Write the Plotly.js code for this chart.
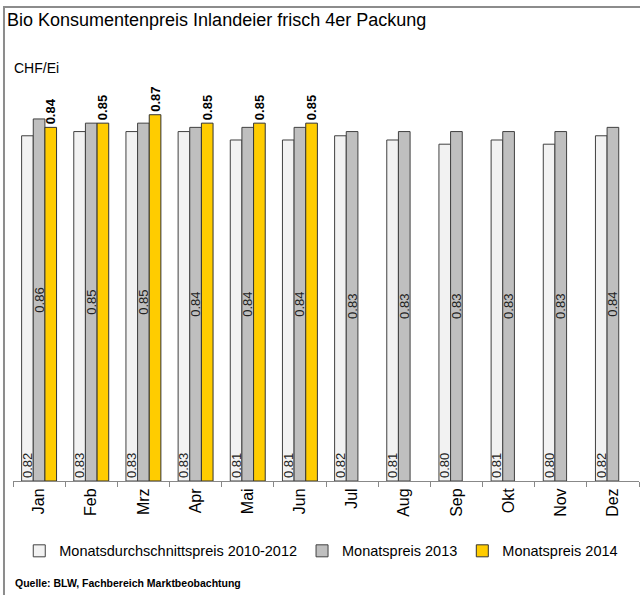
<!DOCTYPE html>
<html>
<head>
<meta charset="utf-8">
<script src="https://cdn.plot.ly/plotly-3.0.1.min.js"></script>
<style>
  body { margin: 0; background: #fff; }
  #chart { width: 640px; height: 595px; }
</style>
</head>
<body>
<div id="chart"></div>
<script>
// monthly bio egg prices, CHF per egg
const months = ["Jan", "Feb", "Mrz", "Apr", "Mai", "Jun", "Jul", "Aug", "Sep", "Okt", "Nov", "Dez"];
const avg2010to2012 = [0.82, 0.83, 0.83, 0.83, 0.81, 0.81, 0.82, 0.81, 0.80, 0.81, 0.80, 0.82];
const price2013 = [0.86, 0.85, 0.85, 0.84, 0.84, 0.84, 0.83, 0.83, 0.83, 0.83, 0.83, 0.84];
const price2014 = [0.84, 0.85, 0.87, 0.85, 0.85, 0.85, null, null, null, null, null, null];

const seriesNames = ["Monatsdurchschnittspreis 2010-2012", "Monatspreis 2013", "Monatspreis 2014"];

const fontFam = "Liberation Sans, Arial, sans-serif";
const fmt = (arr) => arr.map((v) => (v === null ? "" : v.toFixed(2)));

const trace1 = {
  x: months,
  y: avg2010to2012,
  name: seriesNames[0],
  type: "bar",
  marker: { color: "#f2f2f2", line: { color: "#404040", width: 1 } },
  text: fmt(avg2010to2012),
  textposition: "inside",
  insidetextanchor: "start",
  textangle: -90,
  constraintext: "none",
  textfont: { family: fontFam, size: 13, color: "#222" },
};

const trace2 = {
  x: months,
  y: price2013,
  name: seriesNames[1],
  type: "bar",
  marker: { color: "#bfbfbf", line: { color: "#404040", width: 1 } },
  text: fmt(price2013),
  textposition: "inside",
  insidetextanchor: "middle",
  textangle: -90,
  constraintext: "none",
  textfont: { family: fontFam, size: 13, color: "#222" },
};

const trace3 = {
  x: months,
  y: price2014,
  name: seriesNames[2],
  type: "bar",
  marker: { color: "#ffcc00", line: { color: "#333333", width: 1 } },
  text: fmt(price2014),
  textposition: "outside",
  textangle: -90,
  constraintext: "none",
  cliponaxis: false,
  textfont: { family: fontFam, size: 13, color: "#000", weight: "bold" },
};

const layout = {
  width: 640,
  height: 595,
  paper_bgcolor: "#fff",
  plot_bgcolor: "#fff",
  font: { family: fontFam, size: 13, color: "#000" },
  margin: { l: 13, r: 1, t: 60, b: 114 },
  barmode: "group",
  bargap: 0.33,
  bargroupgap: 0,
  showlegend: true,
  legend: {
    orientation: "h",
    x: 0.01,
    y: -0.128,
    xanchor: "left",
    yanchor: "top",
    font: { size: 14.5 },
    itemwidth: 30,
    traceorder: "normal",
  },
  xaxis: {
    type: "category",
    tickangle: -90,
    tickfont: { size: 16 },
    ticks: "outside",
    tickson: "boundaries",
    ticklen: 5,
    tickcolor: "#888",
    showline: true,
    linecolor: "#888",
    linewidth: 1,
    showgrid: false,
  },
  yaxis: {
    range: [0, 1],
    showticklabels: false,
    showgrid: false,
    zeroline: false,
    showline: false,
    ticks: "",
  },
  annotations: [
    {
      text: "Bio Konsumentenpreis Inlandeier frisch 4er Packung",
      xref: "paper", yref: "paper",
      x: -0.012, y: 1.095, xanchor: "left", yanchor: "middle",
      font: { size: 18 }, showarrow: false,
    },
    {
      text: "CHF/Ei",
      xref: "paper", yref: "paper",
      x: -0.002, y: 0.981, xanchor: "left", yanchor: "middle",
      font: { size: 14 }, showarrow: false,
    },
    {
      text: "<b>Quelle: BLW, Fachbereich Marktbeobachtung</b>",
      xref: "paper", yref: "paper",
      x: 0.0, y: -0.242, xanchor: "left", yanchor: "middle",
      font: { size: 10.5 }, showarrow: false,
    },
  ],
  shapes: [
    {
      // chart frame, cut off at right and bottom like the source
      type: "rect",
      xref: "paper", yref: "paper",
      x0: -0.0144, x1: 1.1, y0: -0.4, y1: 1.126,
      line: { color: "#8c8c8c", width: 2 },
      fillcolor: "rgba(0,0,0,0)",
      layer: "below",
    },
  ],
};

Plotly.newPlot("chart", [trace1, trace2, trace3], layout, { staticPlot: true });
</script>
</body>
</html>
